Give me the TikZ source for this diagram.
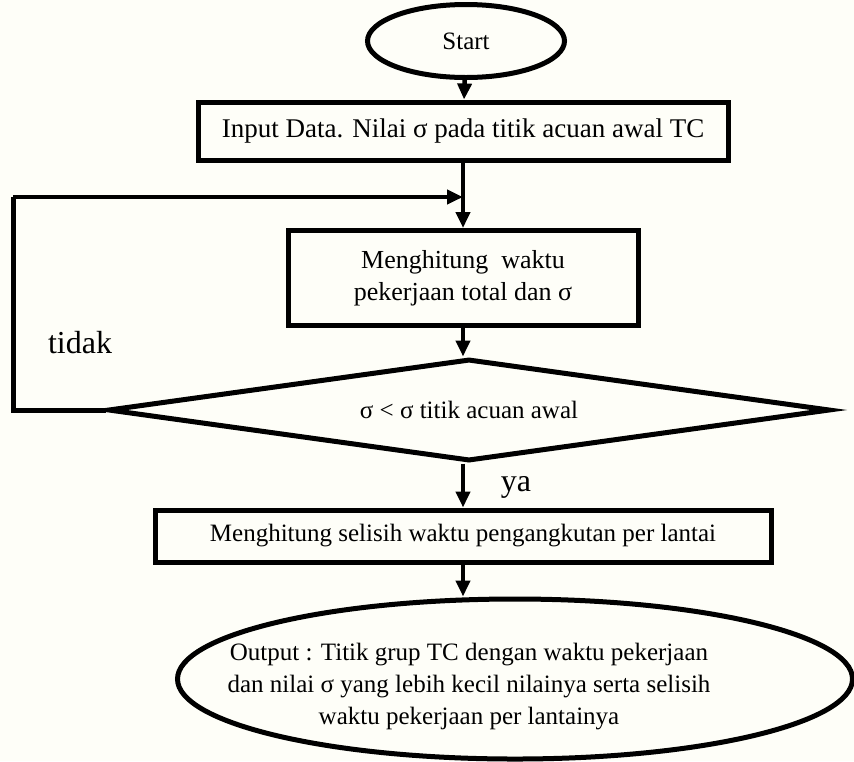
\documentclass[tikz,border=0pt]{standalone}
\usepackage{fontspec}
\setmainfont{Liberation Serif}
\usepackage{xcolor}
\usetikzlibrary{arrows.meta,positioning,shapes.geometric,calc}
\definecolor{bgcream}{RGB}{254,254,248}

\begin{document}
\begin{tikzpicture}[x=0.5pt,y=-0.5pt,
  every node/.style={align=center,font=\fontsize{12.5}{16}\selectfont},
  terminal/.style={draw,ellipse,line width=2.5pt,inner sep=0pt},
  process/.style={draw,line width=2.5pt,inner sep=0pt},
  decision/.style={draw,diamond,shape aspect=6,line width=2.5pt,inner sep=0pt},
  branch/.style={font=\fontsize{16}{19}\selectfont},
  to/.style={-{Triangle[width=7pt,length=8pt]},line width=2.3pt},
  link/.style={line width=2.5pt}]

    \useasboundingbox[fill=bgcream] (0,0) rectangle (854,761);

    % flow nodes
    \node[terminal,minimum width=98.5pt,minimum height=36.5pt](start) at (466,41){Start};
    \node[process,minimum width=265pt,minimum height=29pt,
          font=\fontsize{13.5}{16}\selectfont](input) at (463,131)
        {Input Data. Nilai σ pada titik acuan awal TC};
    \node[process,minimum width=175pt,minimum height=47.5pt,
          font=\fontsize{13}{16}\selectfont](hitung) at (463,278)
        {Menghitung~ waktu\\pekerjaan total dan σ};
    \node[decision,minimum width=361pt,minimum height=51pt](cek) at (469,410)
        {σ < σ titik acuan awal};
    \node[process,minimum width=308pt,minimum height=26pt](selisih) at (463,536)
        {Menghitung selisih waktu pengangkutan per lantai};
    \node[terminal,minimum width=337.5pt,minimum height=80pt,
          label={[xshift=-23pt,yshift=-4pt]center:{Output : Titik grup TC dengan waktu pekerjaan\\
          dan nilai σ yang lebih kecil nilainya serta selisih\\waktu pekerjaan per lantainya}}]
          (output) at (515,679){};

    % loop back
    \coordinate (kiriBawah) at (13,410);
    \coordinate (kiriAtas) at (13,197);
    \coordinate (gabung) at (463,197);

    \node[branch](tidak) at (80,343){tidak};
    \node[branch](ya) at (516,487){ya};

    \draw[to](start) -- (input);
    \draw[to](input) -- (hitung);
    \draw[to](hitung.south) -- (hitung.south |- cek.north);
    \draw[to](cek.south -| selisih.north) -- (selisih.north);
    \draw[to](selisih.south) -- (selisih.south |- output.north);
    \draw[link](cek.west) -- (kiriBawah) -- (kiriAtas);
    \draw[to](kiriAtas) -- (gabung);
\end{tikzpicture}
\end{document}
